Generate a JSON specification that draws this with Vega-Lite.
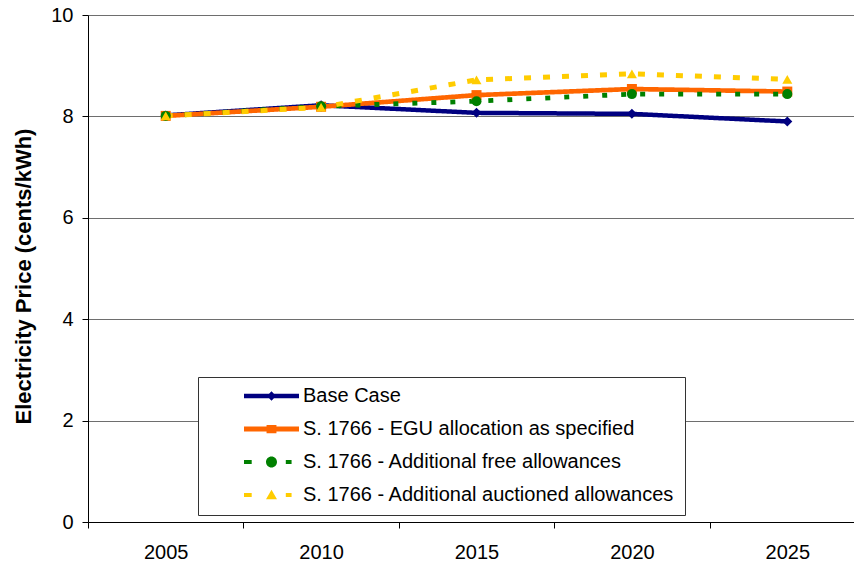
{
  "$schema": "https://vega.github.io/schema/vega-lite/v6.json",
  "width": 777,
  "height": 507,
  "autosize": {"type": "none"},
  "padding": {"left": 88, "top": 15, "right": 0, "bottom": 39},
  "background": "white",
  "config": {
    "font": "Liberation Sans",
    "view": {"stroke": null},
    "legend": {
      "orient": "none",
      "legendX": 110,
      "legendY": 362,
      "padding": 10,
      "strokeColor": "#333333",
      "fillColor": "white",
      "symbolSize": 3025,
      "symbolStrokeWidth": 0,
      "symbolOpacity": 1,
      "symbolOffset": 36,
      "labelOffset": 4,
      "labelFontSize": 20,
      "labelColor": "black",
      "labelFont": "Liberation Sans",
      "labelLimit": 0,
      "clipHeight": 18,
      "rowPadding": 13
    }
  },
  "data": {
    "values": [
      {"year": "2005", "series": "Base Case", "price": 8.02},
      {"year": "2010", "series": "Base Case", "price": 8.22},
      {"year": "2015", "series": "Base Case", "price": 8.07},
      {"year": "2020", "series": "Base Case", "price": 8.05},
      {"year": "2025", "series": "Base Case", "price": 7.9},
      {"year": "2005", "series": "S. 1766 - EGU allocation as specified", "price": 8.01},
      {"year": "2010", "series": "S. 1766 - EGU allocation as specified", "price": 8.19},
      {"year": "2015", "series": "S. 1766 - EGU allocation as specified", "price": 8.42},
      {"year": "2020", "series": "S. 1766 - EGU allocation as specified", "price": 8.54},
      {"year": "2025", "series": "S. 1766 - EGU allocation as specified", "price": 8.49},
      {"year": "2005", "series": "S. 1766 - Additional free allowances", "price": 8.01},
      {"year": "2010", "series": "S. 1766 - Additional free allowances", "price": 8.2},
      {"year": "2015", "series": "S. 1766 - Additional free allowances", "price": 8.3},
      {"year": "2020", "series": "S. 1766 - Additional free allowances", "price": 8.44},
      {"year": "2025", "series": "S. 1766 - Additional free allowances", "price": 8.44},
      {"year": "2005", "series": "S. 1766 - Additional auctioned allowances", "price": 8.01},
      {"year": "2010", "series": "S. 1766 - Additional auctioned allowances", "price": 8.18},
      {"year": "2015", "series": "S. 1766 - Additional auctioned allowances", "price": 8.72},
      {"year": "2020", "series": "S. 1766 - Additional auctioned allowances", "price": 8.84},
      {"year": "2025", "series": "S. 1766 - Additional auctioned allowances", "price": 8.73}
    ]
  },
  "encoding": {
    "x": {
      "field": "year",
      "type": "ordinal",
      "bandPosition": 0.5,
      "scale": {"type": "band", "paddingInner": 0, "paddingOuter": 0},
      "axis": {
        "title": null,
        "labelAngle": 0,
        "labelFontSize": 20,
        "labelColor": "black",
        "labelFont": "Liberation Sans",
        "tickBand": "extent",
        "tickSize": 6,
        "tickColor": "black",
        "domainColor": "black",
        "labelPadding": 14,
        "grid": false
      }
    },
    "y": {
      "field": "price",
      "type": "quantitative",
      "scale": {"domain": [0, 10], "nice": false, "zero": true},
      "axis": {
        "title": "Electricity Price (cents/kWh)",
        "values": [0, 2, 4, 6, 8, 10],
        "grid": true,
        "gridColor": "#6e6e6e",
        "gridWidth": 1,
        "domainColor": "black",
        "tickColor": "black",
        "tickSize": 6,
        "labelPadding": 9,
        "labelFontSize": 20,
        "labelColor": "black",
        "labelFont": "Liberation Sans",
        "titleFontSize": 22,
        "titleFontWeight": "bold",
        "titleColor": "black",
        "titleFont": "Liberation Sans",
        "titleX": -58,
        "titleY": 261,
        "titleBaseline": "alphabetic"
      }
    }
  },
  "layer": [
    {
      "mark": {"type": "line"},
      "encoding": {
        "color": {
          "field": "series",
          "type": "nominal",
          "scale": {
            "domain": ["Base Case", "S. 1766 - EGU allocation as specified", "S. 1766 - Additional free allowances", "S. 1766 - Additional auctioned allowances"],
            "range": ["#000080", "#FF6600", "#008000", "#FFCC00"]
          },
          "legend": null
        },
        "strokeDash": {
          "field": "series",
          "type": "nominal",
          "scale": {
            "domain": ["Base Case", "S. 1766 - EGU allocation as specified", "S. 1766 - Additional free allowances", "S. 1766 - Additional auctioned allowances"],
            "range": [[1, 0], [1, 0], [5, 14], [7, 12]]
          },
          "legend": null
        },
        "strokeWidth": {
          "field": "series",
          "type": "ordinal",
          "scale": {
            "domain": ["Base Case", "S. 1766 - EGU allocation as specified", "S. 1766 - Additional free allowances", "S. 1766 - Additional auctioned allowances"],
            "range": [4.5, 5, 4, 4]
          },
          "legend": null
        }
      }
    },
    {
      "mark": {"type": "point", "filled": true, "size": 100, "opacity": 1},
      "encoding": {
        "color": {
          "field": "series",
          "type": "nominal",
          "scale": {
            "domain": ["Base Case", "S. 1766 - EGU allocation as specified", "S. 1766 - Additional free allowances", "S. 1766 - Additional auctioned allowances"],
            "range": ["#000080", "#FF6600", "#008000", "#FFCC00"]
          },
          "legend": null
        },
        "shape": {
          "field": "series",
          "type": "nominal",
          "scale": {
            "domain": ["Base Case", "S. 1766 - EGU allocation as specified", "S. 1766 - Additional free allowances", "S. 1766 - Additional auctioned allowances"],
            "range": ["diamond", "square", "circle", "triangle-up"]
          },
          "legend": null
        }
      }
    },
    {
      "mark": {"type": "point", "filled": true, "opacity": 0},
      "encoding": {
        "color": {
          "field": "series",
          "type": "nominal",
          "scale": {
            "domain": ["Base Case", "S. 1766 - EGU allocation as specified", "S. 1766 - Additional free allowances", "S. 1766 - Additional auctioned allowances"],
            "range": ["#000080", "#FF6600", "#008000", "#FFCC00"]
          },
          "legend": {"title": null}
        },
        "shape": {
          "field": "series",
          "type": "nominal",
          "scale": {
            "domain": ["Base Case", "S. 1766 - EGU allocation as specified", "S. 1766 - Additional free allowances", "S. 1766 - Additional auctioned allowances"],
            "range": [
              "M-1,-0.08H1V0.08H-1Z M0,-0.17L0.17,0L0,0.17L-0.17,0Z",
              "M-1,-0.09H1V0.09H-1Z M-0.18,-0.15H0.18V0.15H-0.18Z",
              "M-1,-0.07H-0.72V0.07H-1Z M-0.2,0A0.2,0.2 0 1,0 0.2,0A0.2,0.2 0 1,0 -0.2,0Z M0.52,-0.07H0.73V0.07H0.52Z",
              "M-1,-0.07H-0.72V0.07H-1Z M0,-0.19L0.2,0.15H-0.2Z M0.52,-0.07H0.73V0.07H0.52Z"
            ]
          },
          "legend": {"title": null}
        }
      }
    }
  ],
  "resolve": {"scale": {"shape": "independent", "color": "independent"}}
}
